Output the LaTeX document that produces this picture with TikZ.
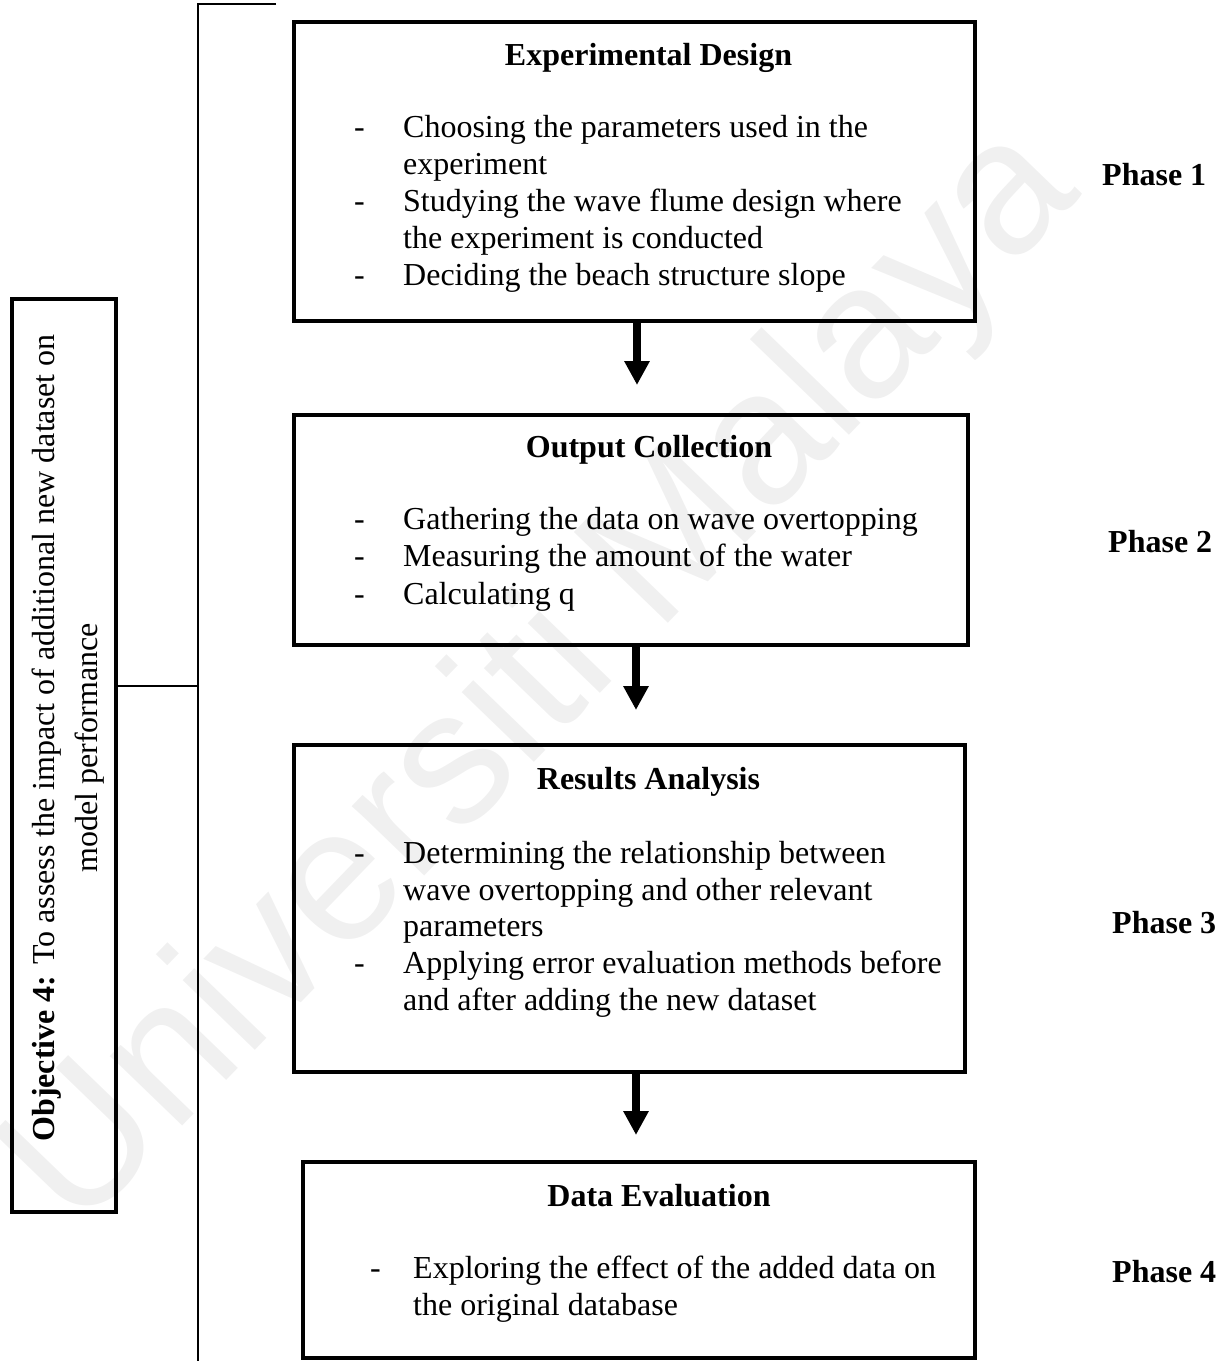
\documentclass[tikz,border=0pt]{standalone}
\usepackage{fontspec}
\setmainfont{Liberation Serif}
\newfontfamily\wmfont{Liberation Sans}
\usetikzlibrary{arrows.meta}
\begin{document}
\begin{tikzpicture}[x=1pt,y=-1pt,
  stagebox/.style={draw=black, line width=4.5pt, inner sep=0pt, rectangle},
  flow/.style={line width=8pt, -{Triangle[width=24pt,length=24pt]}},
  bracket/.style={line width=1.5pt},
  body/.style={font=\fontsize{32}{37}\selectfont, inner sep=0pt, anchor=base west},
  title/.style={font=\fontsize{32}{37}\selectfont\bfseries, inner sep=0pt, anchor=base},
  phase/.style={font=\fontsize{32}{37}\selectfont\bfseries, inner sep=0pt, anchor=base west},
  watermark/.style={font=\wmfont\fontsize{190}{200}\selectfont, text=black!6, inner sep=0pt}]

\useasboundingbox (0,0) rectangle (1229,1361);

% faint watermark behind everything
\node[watermark, rotate=46] (wm) at (545,680) {Universiti Malaya};

% objective box on the left
\node[stagebox, minimum width=104pt, minimum height=913pt] (obj) at (64,755.5) {};
\node[body, anchor=base, rotate=90] (objA) at (54,738)
  {\textbf{Objective 4:} To assess the impact of additional new dataset on};
\node[body, anchor=base, rotate=90] (objB) at (97,748) {model performance};

% bracket joining the objective to the phases
\coordinate (brTop) at (198,4);
\coordinate (brTopEnd) at (276,4);
\coordinate (brBot) at (198,1361);
\coordinate (brMid) at (198,686);
\draw[bracket] (brTopEnd) -- (brTop) -- (brBot);
\draw[bracket] (obj.east |- brMid) -- (brMid);

% phase boxes
\node[stagebox, minimum width=681pt, minimum height=299pt] (b1) at (634.5,171.5) {};
\node[stagebox, minimum width=674pt, minimum height=230pt] (b2) at (631,530) {};
\node[stagebox, minimum width=671pt, minimum height=327pt] (b3) at (629.5,908.5) {};
\node[stagebox, minimum width=672pt, minimum height=196pt] (b4) at (639,1260) {};

% box 1
\node[title] (t1) at (648.5,65) {Experimental Design};
\node[body] (d11) at (354,137) {-};
\node[body] (l11) at (403,137) {Choosing the parameters used in the};
\node[body] (l12) at (403,174) {experiment};
\node[body] (d12) at (354,211) {-};
\node[body] (l13) at (403,211) {Studying the wave flume design where};
\node[body] (l14) at (403,248) {the experiment is conducted};
\node[body] (d13) at (354,285) {-};
\node[body] (l15) at (403,285) {Deciding the beach structure slope};

% box 2
\node[title] (t2) at (649,457) {Output Collection};
\node[body] (d21) at (354,529) {-};
\node[body] (l21) at (403,529) {Gathering the data on wave overtopping};
\node[body] (d22) at (354,566) {-};
\node[body] (l22) at (403,566) {Measuring the amount of the water};
\node[body] (d23) at (354,604) {-};
\node[body] (l23) at (403,604) {Calculating q};

% box 3
\node[title] (t3) at (648.5,789) {Results Analysis};
\node[body] (d31) at (354,863) {-};
\node[body] (l31) at (403,863) {Determining the relationship between};
\node[body] (l32) at (403,900) {wave overtopping and other relevant};
\node[body] (l33) at (403,936) {parameters};
\node[body] (d32) at (354,973) {-};
\node[body] (l34) at (403,973) {Applying error evaluation methods before};
\node[body] (l35) at (403,1010) {and after adding the new dataset};

% box 4
\node[title] (t4) at (659,1206) {Data Evaluation};
\node[body] (d41) at (370,1278) {-};
\node[body] (l41) at (413,1278) {Exploring the effect of the added data on};
\node[body] (l42) at (413,1315) {the original database};

% phase labels
\node[phase] (p1) at (1102,185) {Phase 1};
\node[phase] (p2) at (1108,552) {Phase 2};
\node[phase] (p3) at (1112,933) {Phase 3};
\node[phase] (p4) at (1112,1282) {Phase 4};

% flow arrows
\coordinate (a1) at (637,385);
\coordinate (a2) at (636,710);
\coordinate (a3) at (636,1135);
\draw[flow] (b1.south -| a1) -- (a1);
\draw[flow] (b2.south -| a2) -- (a2);
\draw[flow] (b3.south -| a3) -- (a3);
\end{tikzpicture}
\end{document}
